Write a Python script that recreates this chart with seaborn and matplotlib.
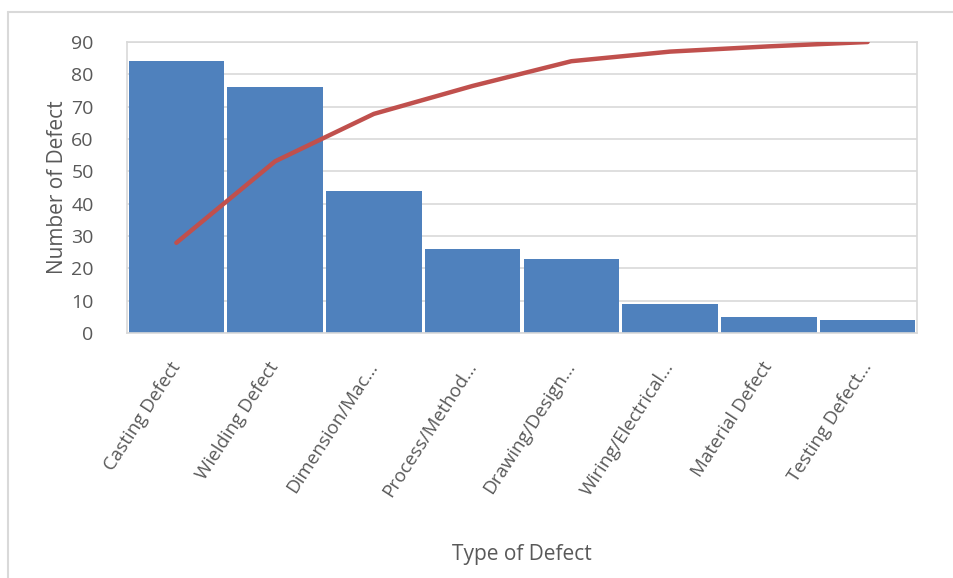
import matplotlib
matplotlib.use("Agg")
import matplotlib.pyplot as plt
import seaborn as sns
import pandas as pd
from matplotlib.lines import Line2D

categories = ["Casting Defect", "Wielding Defect", "Dimension/Mac...", "Process/Method...",
              "Drawing/Design...", "Wiring/Electrical...", "Material Defect", "Testing Defect..."]
defects = [84, 76, 44, 26, 23, 9, 5, 4]
cumulative_pct = [31.0, 59.0, 75.3, 84.9, 93.4, 96.7, 98.5, 100.0]
y_ticks = [0, 10, 20, 30, 40, 50, 60, 70, 80, 90]

df = pd.DataFrame({"cat": categories, "n": defects, "cum": cumulative_pct})

sns.set_theme(style="white")
plt.rcParams["font.family"] = ["Open Sans", "DejaVu Sans"]

fig = plt.figure(figsize=(9.54, 5.78), dpi=100)
ax = fig.add_axes([127/954, 1-333/578, 790/954, 291/578])

txt = "#595959"
grid = "#D9D9D9"

sns.barplot(data=df, x="cat", y="n", ax=ax, color="#4F81BD", saturation=1,
            width=0.965, linewidth=0, zorder=2)
ax.set_ylim(0, 90)
ax.set_xlim(-0.5, len(categories) - 0.5)
ax.set_yticks(y_ticks)
ax.yaxis.grid(True, color=grid, linewidth=1.2, zorder=0)
ax.set_axisbelow(True)
for s in ax.spines.values():
    s.set_color(grid)
    s.set_linewidth(1.2)
ax.tick_params(axis="y", colors=txt, labelsize=14, length=0, pad=24)
ax.tick_params(axis="x", colors=txt, labelsize=13.5, length=0, pad=22)
ax.set_xticks(range(len(categories)))
ax.set_xticklabels(categories, rotation=57, ha="right", va="center", rotation_mode="anchor")
ax.set_ylabel("Number of Defect", color=txt, fontsize=15, labelpad=2)
ax.set_xlabel("Type of Defect", color=txt, fontsize=15, labelpad=31)

ax2 = ax.twinx()
sns.lineplot(data=df, x="cat", y="cum", ax=ax2, color="#C0504D", linewidth=3.2, sort=False)
ax2.set_ylim(0, 100)
ax2.set_xlim(-0.5, len(categories) - 0.5)
ax2.set_yticks([])
ax2.set_ylabel("")
for s in ax2.spines.values():
    s.set_visible(False)

# outer chart border (cropped)
fig.add_artist(Line2D([8/954, 1.0], [1-12/578, 1-12/578], color="#D9D9D9", linewidth=1.5, transform=fig.transFigure))
fig.add_artist(Line2D([8/954, 8/954], [0.0, 1-12/578], color="#D9D9D9", linewidth=1.5, transform=fig.transFigure))

fig.savefig("out.png", dpi=100, facecolor="white")
